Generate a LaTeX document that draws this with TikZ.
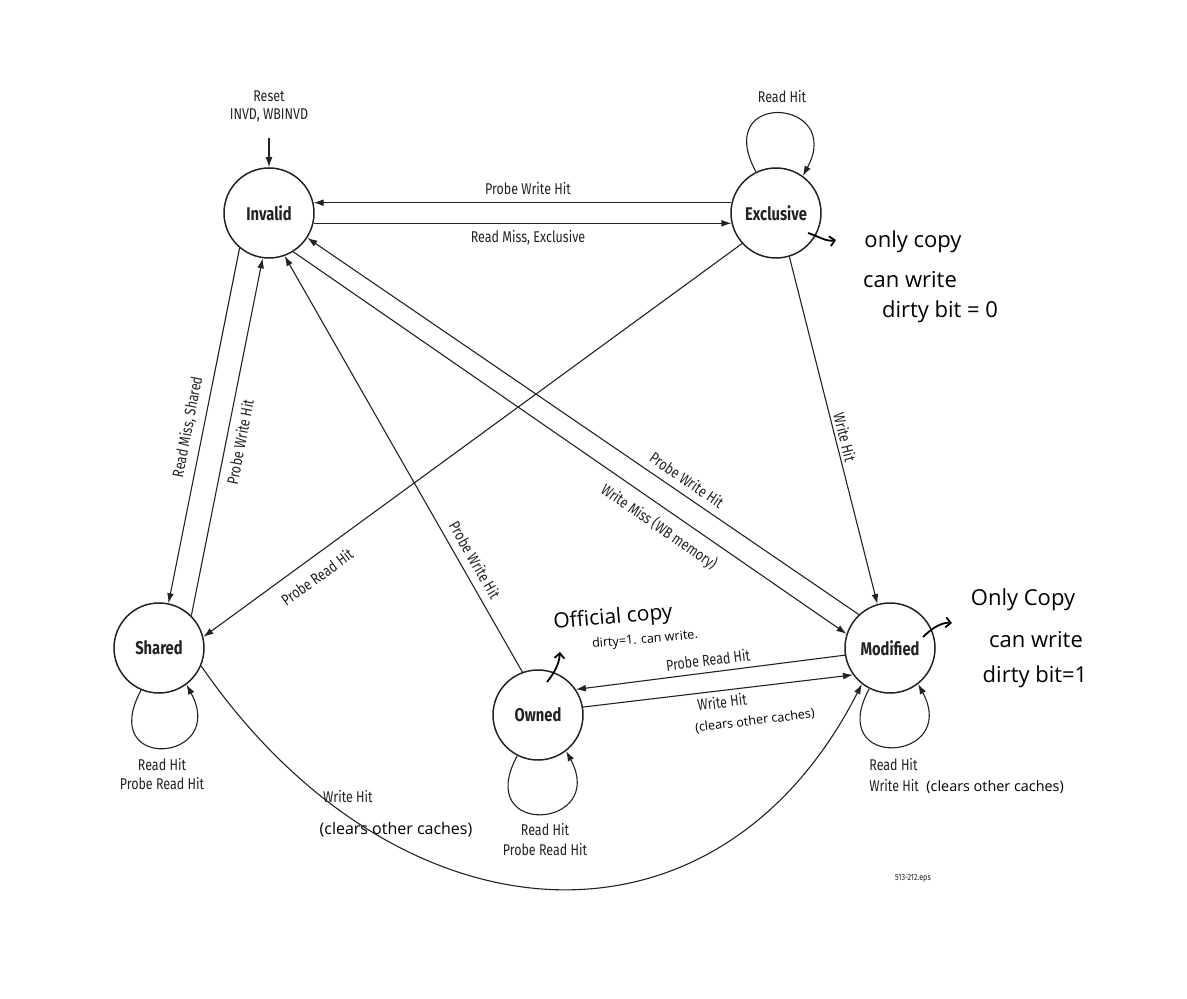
\documentclass[tikz,border=0pt]{standalone}
\usepackage{fontspec}
\setmainfont{Fira Sans}[FakeStretch=0.8]
\newfontfamily\handfont{Open Sans}
\usetikzlibrary{arrows.meta}
\definecolor{ink}{HTML}{222222}
\begin{document}
\begin{tikzpicture}[x=0.5pt,y=-0.5pt,
  state/.style={circle,draw=ink,line width=0.75pt,minimum size=45pt,inner sep=0pt,
    font=\fontsize{9.2}{11}\selectfont\bfseries,text=ink},
  tr/.style={draw=ink,line width=0.55pt,-{Latex[length=5pt,width=3.4pt]}},
  lbl/.style={font=\fontsize{7.8}{9}\selectfont,text=ink,inner sep=0pt},
  hand/.style={font=\handfont\fontsize{11}{13}\selectfont,text=black,inner sep=0pt},
  handsmall/.style={hand,font=\handfont\fontsize{6.3}{7}\selectfont},
  note/.style={draw=black,line width=0.9pt,-{Straight Barb[length=2.5pt,width=5pt]}},
]
\path[use as bounding box] (0,0) rectangle (1187,999);

% states
\node[state] (inv) at (269,213) {Invalid};
\node[state] (exc) at (776,213) {Exclusive};
\node[state] (sh)  at (159,648) {Shared};
\node[state] (ow)  at (538,715) {Owned};
\node[state] (mo)  at (890,648) {Modified};

% reset entry
\coordinate (rst) at (269,138);
\draw[tr] (rst) -- (inv);
\node[lbl] (rstlbl) at (269,96) {Reset};
\node[lbl] (invdlbl) at (269,115) {INVD, WBINVD};

% transitions between states
\draw[tr] (exc.167) -- (inv.13);
\draw[tr] (inv.-13) -- (exc.193);
\draw[tr] (inv.-130) -- (sh.78);
\draw[tr] (sh.45) -- (inv.-98);
\draw[tr] (exc.-138) -- (sh.14);
\draw[tr] (ow.110) -- (inv.-70);
\draw[tr] (inv.-58) -- (mo.162);
\draw[tr] (mo.133) -- (inv.-33);
\draw[tr] (exc.-73) -- (mo.106);
\draw[tr] (mo.189) -- (ow.34);
\draw[tr] (ow.10) -- (mo.216);
\draw[tr] (sh.-23) .. controls (395,947) and (715,972) .. (mo.232);

% self loops
\draw[tr] (exc.116) .. controls +(-45,-83) and +(42,-78) .. (exc.54);
\draw[tr] (sh.-113) .. controls +(-45,83) and +(42,78) .. (sh.-53);
\draw[tr] (ow.-117) .. controls +(-45,83) and +(42,78) .. (ow.-52);
\draw[tr] (mo.-117) .. controls +(-45,83) and +(42,78) .. (mo.-52);

% transition labels
\node[lbl] (lexc) at (782,97) {Read Hit};
\node[lbl] (lei) at (528,189) {Probe Write Hit};
\node[lbl] (lie) at (528,238) {Read Miss, Exclusive};
\node[lbl,rotate=79] (lis) at (188,427) {Read Miss, Shared};
\node[lbl,rotate=79] (lsi) at (240,442) {Probe Write Hit};
\node[lbl,rotate=36] (les) at (317,577) {Probe Read Hit};
\node[lbl,rotate=-60] (loi) at (475,560) {Probe Write Hit};
\node[lbl,rotate=-34.5] (lmi) at (687,480) {Probe Write Hit};
\node[lbl,rotate=-34.5] (lim) at (659,527) {Write Miss (WB memory)};
\node[lbl,rotate=-76] (lem) at (845,437) {Write Hit};
\node[lbl,rotate=7] (lmo) at (708,660) {Probe Read Hit};
\node[lbl,rotate=7] (lom) at (722,702) {Write Hit};
\node[lbl] (lsm) at (348,797) {Write Hit};
\node[lbl] (lsh1) at (162,765) {Read Hit};
\node[lbl] (lsh2) at (162,784) {Probe Read Hit};
\node[lbl] (low1) at (545,830) {Read Hit};
\node[lbl] (low2) at (545,850) {Probe Read Hit};
\node[lbl,anchor=west] (lmo1) at (869,765) {Read Hit};
\node[lbl,anchor=west] (lmo2) at (869,786) {Write Hit};
\node[lbl,font=\fontsize{4.5}{5}\selectfont] (eps) at (913,878) {513-212.eps};

% handwritten notes
\node[handsmall,rotate=7] (hom) at (755,721) {(clears other caches)};
\node[hand,font=\handfont\fontsize{8}{9}\selectfont] (hsm) at (396,830) {(clears other caches)};
\node[hand,font=\handfont\fontsize{7.2}{8}\selectfont,anchor=west] (hmo) at (926,787) {(clears other caches)};

\node[hand] (ex1) at (913,242) {only copy};
\node[hand] (ex2) at (910,280) {can write};
\node[hand] (ex3) at (940,312) {dirty bit = 0};
\coordinate (exa) at (808,233);
\coordinate (exb) at (836,240);
\draw[note] (exa) .. controls (818,236) and (826,242) .. (exb);

\node[hand] (mo1) at (1023,600) {Only Copy};
\node[hand] (mo2) at (1036,640) {can write};
\node[hand] (mo3) at (1035,677) {dirty bit=1};
\coordinate (moa) at (923,637);
\coordinate (mob) at (952,623);
\draw[note] (moa) .. controls (932,628) and (942,622) .. (mob);

\node[hand,rotate=5,font=\handfont\fontsize{10.5}{12}\selectfont] (ow1) at (613,618) {Official copy};
\node[handsmall,rotate=5] (ow2) at (645,640) {dirty=1. can write.};
\coordinate (owa) at (547,682);
\coordinate (owb) at (560,652);
\draw[note] (owa) .. controls (555,672) and (559,664) .. (owb);
\end{tikzpicture}
\end{document}
